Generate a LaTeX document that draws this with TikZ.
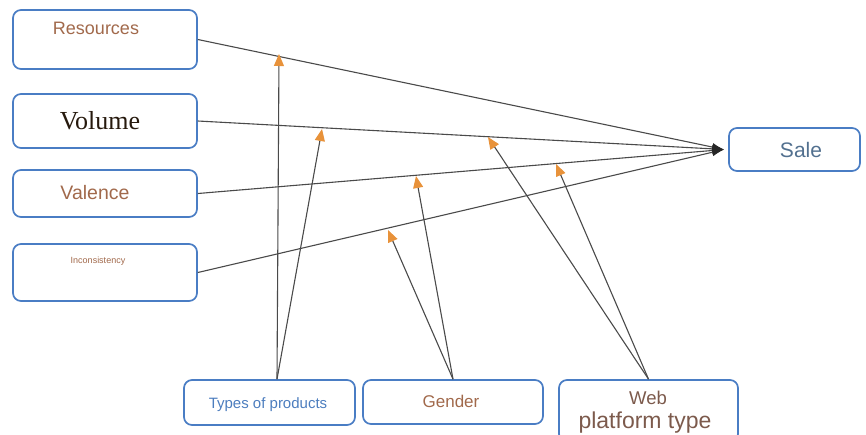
\documentclass[tikz,border=0pt]{standalone}
\usepackage{fontspec}
\setmainfont{Liberation Sans}
\newfontfamily\volfont{Liberation Serif}
\usepackage{xcolor}
\usetikzlibrary{arrows.meta,positioning,calc}
\definecolor{boxblue}{HTML}{4A7DC4}
\definecolor{txtbrown}{HTML}{A1694B}
\definecolor{txtblue}{HTML}{4C7DBE}
\definecolor{salegray}{HTML}{52708F}
\definecolor{webbrown}{HTML}{7C5A4C}
\definecolor{tipor}{HTML}{E8923A}
\definecolor{linegray}{HTML}{4A4A4A}

\begin{document}
\begin{tikzpicture}[x=1pt, y=-1pt,
  box/.style={draw=boxblue, line width=1.7pt, rounded corners=8pt, inner sep=0pt},
  lbl/.style={inner sep=0pt, font=\fontsize{18}{20}\selectfont, text=txtbrown},
  link/.style={draw=linegray, line width=1.1pt, -{Latex[length=12pt,width=8pt,color=black!85]}},
  mod/.style={draw=linegray, line width=1.1pt, -{Triangle[length=12pt,width=10pt,color=tipor]}}]
  \useasboundingbox (0,0) rectangle (866,434);
  % Inputs
  \node[box, minimum width=184pt, minimum height=59pt] (res) at (105,39.5) {};
  \node[lbl] (resT) at (96,28) {Resources};
  \node[box, minimum width=184pt, minimum height=54pt] (vol) at (105,121) {};
  \node[lbl, font=\volfont\fontsize{26}{28}\selectfont, text=black!80!brown] (volT) at (100,121) {Volume};
  \node[box, minimum width=184pt, minimum height=47pt] (val) at (105,193.5) {};
  \node[lbl, font=\fontsize{19.5}{21}\selectfont] (valT) at (95,193) {Valence};
  \node[box, minimum width=184pt, minimum height=57pt] (inc) at (105,272.5) {};
  \node[lbl, font=\fontsize{9}{10}\selectfont] (incT) at (98,261) {Inconsistency};
  % Output
  \node[box, minimum width=131pt, minimum height=43pt] (sale) at (794.5,149.5) {};
  \node[lbl, font=\fontsize{21}{23}\selectfont, text=salegray] (saleT) at (801,150) {Sale};
  \coordinate (hub) at ($(sale.west)+(-4,0)$);
  % Moderators
  \node[box, minimum width=171pt, minimum height=45pt] (types) at (269.5,402.5) {};
  \node[lbl, font=\fontsize{15}{17}\selectfont, text=txtblue] (typesT) at (268,405) {Types of products};
  \node[box, minimum width=180pt, minimum height=44pt] (gen) at (453,402) {};
  \node[lbl, font=\fontsize{17}{19}\selectfont] (genT) at (451,401) {Gender};
  \node[box, minimum width=179pt, minimum height=62pt] (web) at (648.5,411) {};
  \node[lbl, font=\fontsize{18.5}{20}\selectfont, text=webbrown] (webT) at (648,398) {Web};
  \node[lbl, font=\fontsize{23}{25}\selectfont, text=webbrown] (webT2) at (645,423) {platform type};
  \coordinate (tp) at ($(types.north)+(7.5,0)$);
  % Main effects
  \foreach \n in {res,vol,val,inc}
    \draw[link] (\n.east) -- (hub);
  % Moderating effects
  \coordinate (m1) at (279,54);
  \coordinate (m2) at (322,129);
  \coordinate (m3) at (388,230);
  \coordinate (m4) at (416,176);
  \coordinate (m5) at (488,137);
  \coordinate (m6) at (556,164);
  \foreach \s/\t in {tp/m1, tp/m2, gen.north/m3, gen.north/m4, web.north/m5, web.north/m6}
    \draw[mod] (\s) -- (\t);
\end{tikzpicture}
\end{document}
